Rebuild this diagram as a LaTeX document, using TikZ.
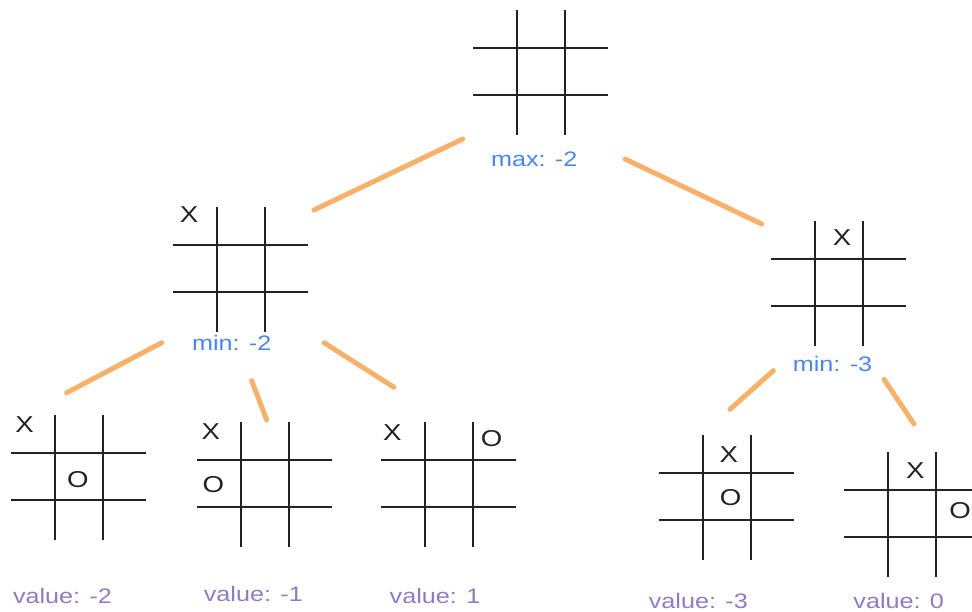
\documentclass[tikz,border=0pt]{standalone}
\usepackage{fontspec}
\usepackage{graphicx}
\setmainfont{Liberation Sans}
\definecolor{edgeorange}{HTML}{F6B26B}
\definecolor{minmaxblue}{HTML}{4A86E8}
\definecolor{valuepurple}{HTML}{8E7CC3}
\definecolor{gridline}{HTML}{222222}
\newcommand{\wlab}[1]{\scalebox{1.2}[1]{#1}}
\tikzset{
  gridl/.style={draw=gridline,line width=2pt},
  ttt/.pic={
    \draw[gridl] (0,-38) -- (0,87);
    \draw[gridl] (48,-38) -- (48,87);
    \draw[gridl] (-44,0) -- (91,0);
    \draw[gridl] (-44,46.5) -- (91,46.5);
  },
  edge/.style={draw=edgeorange,line width=5pt,line cap=round},
  lbl/.style={anchor=base,inner sep=0pt,font=\fontsize{21}{25}\selectfont},
  minmax/.style={lbl,text=minmaxblue},
  valuelab/.style={lbl,text=valuepurple},
  xo/.style={inner sep=0pt,text=gridline,font=\fontsize{23}{27}\selectfont}
}
\begin{document}
\begin{tikzpicture}[x=1pt,y=-1pt]
\useasboundingbox (0,0) rectangle (972,611);
% boards
\pic (T)  at (517,48)    {ttt};
\pic (L)  at (216.7,245) {ttt};
\pic (R)  at (815,259.3) {ttt};
\pic (B1) at (55,453.3)  {ttt};
\pic (B2) at (240.7,460) {ttt};
\pic (B3) at (425,460)   {ttt};
\pic (B4) at (702.7,473.3) {ttt};
\pic (B5) at (888.3,490) {ttt};
% marks
\node[xo] (Lx)  at (189,214.7) {\wlab{X}};
\node[xo] (Rx)  at (842,238) {\wlab{X}};
\node[xo] (B1x) at (24.7,425) {\wlab{X}};
\node[xo] (B1o) at (77.8,480) {\wlab{O}};
\node[xo] (B2x) at (210.8,431.7) {\wlab{X}};
\node[xo] (B2o) at (213.3,485) {\wlab{O}};
\node[xo] (B3x) at (392.3,432.5) {\wlab{X}};
\node[xo] (B3o) at (491.7,438.7) {\wlab{O}};
\node[xo] (B4x) at (728.7,454.3) {\wlab{X}};
\node[xo] (B4o) at (730.5,497.2) {\wlab{O}};
\node[xo] (B5x) at (915.3,470.5) {\wlab{X}};
\node[xo] (B5o) at (960,510.8) {\wlab{O}};
% labels
\node[minmax] (Tl) at (534.2,166.7) {\wlab{max: -2}};
\node[minmax] (Ll) at (231.7,350) {\wlab{min: -2}};
\node[minmax] (Rl) at (832.5,371.7) {\wlab{min: -3}};
\node[valuelab] (B1l) at (62.5,603) {\wlab{value: -2}};
\node[valuelab] (B2l) at (253.3,601) {\wlab{value: -1}};
\node[valuelab] (B3l) at (435,603) {\wlab{value: 1}};
\node[valuelab] (B4l) at (698.3,608) {\wlab{value: -3}};
\node[valuelab] (B5l) at (898.7,608) {\wlab{value: 0}};
% connector ends
\coordinate (eTLa) at (462.7,139);
\coordinate (eTLb) at (314,210);
\coordinate (eTRa) at (625,159);
\coordinate (eTRb) at (761.7,224);
\coordinate (eL1a) at (161.7,342.7);
\coordinate (eL1b) at (66.7,392.7);
\coordinate (eL2a) at (251.7,380.7);
\coordinate (eL2b) at (266.7,420);
\coordinate (eL3a) at (324,342.7);
\coordinate (eL3b) at (394,387.3);
\coordinate (eR1a) at (773.3,370.7);
\coordinate (eR1b) at (730,409.3);
\coordinate (eR2a) at (884,379.3);
\coordinate (eR2b) at (914,424);
% connectors
\draw[edge] (eTLa) -- (eTLb);
\draw[edge] (eTRa) -- (eTRb);
\draw[edge] (eL1a) -- (eL1b);
\draw[edge] (eL2a) -- (eL2b);
\draw[edge] (eL3a) -- (eL3b);
\draw[edge] (eR1a) -- (eR1b);
\draw[edge] (eR2a) -- (eR2b);
\end{tikzpicture}
\end{document}
